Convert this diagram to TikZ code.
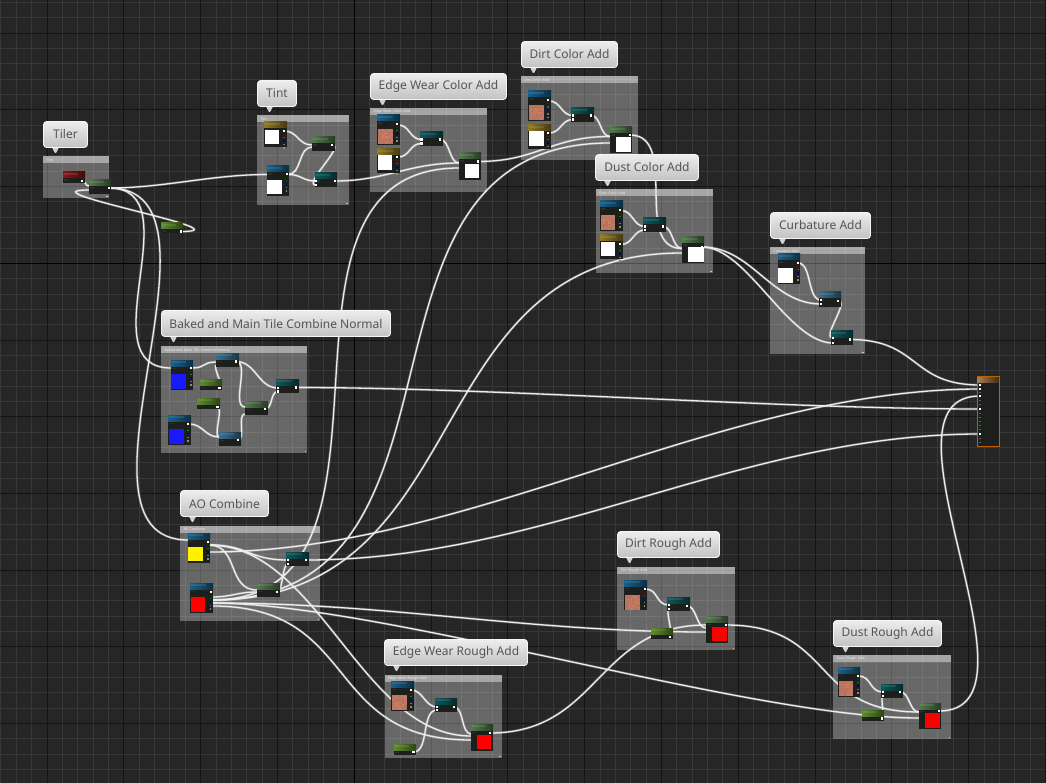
\documentclass[tikz,border=0pt]{standalone}
\usepackage{fontspec}
\setmainfont{Noto Sans}
\pgfdeclarelayer{backdrop}
\pgfdeclarelayer{wirelayer}
\pgfsetlayers{backdrop,wirelayer,main}
\definecolor{canvas}{HTML}{262626}
\definecolor{finegrid}{HTML}{383838}
\definecolor{majorgrid}{HTML}{141414}
\definecolor{nodebody}{HTML}{1D1F1D}
\definecolor{hblue}{HTML}{1A6E9E}
\definecolor{hbluegray}{HTML}{3F7FA6}
\definecolor{hteal}{HTML}{0E6468}
\definecolor{hgreen}{HTML}{5F8A58}
\definecolor{hlime}{HTML}{6AA030}
\definecolor{hyellow}{HTML}{A58A28}
\definecolor{hred}{HTML}{A01818}
\definecolor{salmon}{HTML}{CB7F66}
\definecolor{bubbletext}{HTML}{555555}
\tikzset{
  wire/.style={draw=white!93!black,line width=1.3pt,line cap=round,
    preaction={draw=white,draw opacity=.22,line width=2.6pt}},
  gbody/.style={fill=nodebody,inner sep=0pt,outer sep=0pt,anchor=north west},
  commentbox/.style={fill=white,fill opacity=.30,inner sep=0pt,outer sep=0pt,anchor=north west},
  commentband/.style={fill=white,fill opacity=.42,text opacity=.8,text=white,inner sep=0pt,outer sep=0pt,
    anchor=north west,font=\fontsize{3.6}{4}\selectfont,align=left},
  bubble/.style={draw=white!96!black,line width=.9pt,rounded corners=3.2pt,top color=white!93!black,bottom color=white!76!black,
    inner sep=0pt,outer sep=0pt,anchor=north west,text=bubbletext,font=\fontsize{12}{14}\selectfont},
}
% comment frame with its title band
\newcommand\commentframe[6]{%
  \begin{pgfonlayer}{backdrop}
    \node[commentbox,minimum width={(#4-#2)*1pt},minimum height={(#5-#3)*1pt}] (#1) at (#2,#3) {};
    \node[commentband,minimum width={(#4-#2)*1pt},minimum height=7.4pt,text width={(#4-#2-3)*1pt}] (#1title) at (#2,#3) {\hspace{2pt}#6};
    \fill[white,opacity=.6] ({#4-2.2},{#5-2.2}) rectangle ({#4-1},{#5-1});
  \end{pgfonlayer}}
% speech bubble above a comment frame
\newcommand\talk[6]{%
  \fill[white!82!black] ({#2+8},{#5-1}) -- ({#2+16},{#5-1}) -- ({#2+12.6},{#5+5.5}) -- ({#2+11.4},{#5+5.5}) -- cycle;
  \node[bubble,minimum width={(#4-#2)*1pt},minimum height={(#5-#3)*1pt}] (#1) at (#2,#3) {#6};}
% expression node: name, x1, y1, x2, y2, header colour
\newcommand\gnode[6]{%
  \node[gbody,minimum width={(#4-#2)*1pt},minimum height={(#5-#3)*1pt}] (#1) at (#2,#3) {};
  \shade[left color=#6!88!black,right color=#6!42!black] (#2,#3) rectangle (#4,{#3+6});
  \fill[white,opacity=.10] ({#2+1},{#3+1.4}) rectangle ({#2+(#4-#2)*.7},{#3+3.4});
  \fill[white,opacity=.07] ({#2+1},{#3+7.5}) rectangle ({#2+4.5},{#3+9.2});}
\newcommand\swatch[5]{\fill[#5] (#1,#2) rectangle (#3,#4);}
% textured swatch
\newcommand\roughswatch[4]{%
  \fill[salmon] (#1,#2) rectangle (#3,#4);
  \foreach \u in {0,...,9}{\foreach \v in {0,...,9}{%
    \pgfmathsetmacro\shadeamt{int(88+rnd*12)}
    \fill[salmon!\shadeamt!black] ({#1+\u*1.47},{#2+\v*1.47}) rectangle ({#1+\u*1.47+1.47},{#2+\v*1.47+1.47});}}}
% column of output pins on a texture node
\newcommand\pincolumn[2]{%
  \fill[white] (#1,#2) rectangle ({#1+2},{#2+2});
  \fill[red!55!black] ({#1+.3},{#2+3.6}) rectangle ({#1+1.7},{#2+5});
  \fill[green!55!black] ({#1+.3},{#2+7}) rectangle ({#1+1.7},{#2+8.4});
  \fill[blue!55!black] ({#1+.3},{#2+10.4}) rectangle ({#1+1.7},{#2+11.8});
  \fill[white!45!black] ({#1+.3},{#2+13.8}) rectangle ({#1+1.7},{#2+15.2});
  \fill[white!55!black] ({#1+.3},{#2+17.2}) rectangle ({#1+1.7},{#2+18.6});}
% wire pin with and without a visible square
\newcommand\pin[3]{\coordinate (#1) at (#2,#3);\fill[white] ({#2-1.2},{#3-1.2}) rectangle ({#2+1.2},{#3+1.2});}
\newcommand\cpin[3]{\coordinate (#1) at (#2,#3);}
\newcommand\wire[3]{\draw[wire] (#1) .. controls +(#3,0) and +(-#3,0) .. (#2);}
\begin{document}
\begin{tikzpicture}[x=1pt,y=-1pt]
\pgfmathsetseed{7}
\useasboundingbox (0,0) rectangle (1046,783);
\clip (0,0) rectangle (1046,783);
\begin{pgfonlayer}{backdrop}
  \fill[canvas] (0,0) rectangle (1046,783);
  \foreach \i in {-4,...,70}{\draw[finegrid,line width=.9pt] ({47+\i*15.36},0) -- ({47+\i*15.36},783);}
  \foreach \j in {-18,...,34}{\draw[finegrid,line width=.9pt] (0,{263.3+\j*15.34}) -- (1046,{263.3+\j*15.34});}
  \foreach \i in {-1,...,13}{\draw[majorgrid,line width=1pt] ({47+\i*76.8},0) -- ({47+\i*76.8},783);}
  \foreach \j in {-4,...,7}{\draw[majorgrid,line width=1pt] (0,{263.3+\j*76.7}) -- (1046,{263.3+\j*76.7});}
  \draw[black,line width=1.2pt] (354.2,0) -- (354.2,783);
  \draw[black,line width=1.2pt] (0,263.3) -- (1046,263.3);
\end{pgfonlayer}

% comment frames
\commentframe{cTiler}{43}{156}{108.5}{198}{Tiler}
\commentframe{cTint}{257}{115}{348.5}{205}{Tint}
\commentframe{cEdgeC}{370}{108}{487}{192}{Edge Wear Color Add}
\commentframe{cDirtC}{521}{76}{638}{160}{Dirt Color Add}
\commentframe{cDustC}{595.5}{189}{712.5}{273}{Dust Color Add}
\commentframe{cCurb}{770}{247}{864.5}{354}{Curbature Add}
\commentframe{cBaked}{161}{346}{307}{453}{Baked and Main Tile Combine Normal}
\commentframe{cAO}{180}{525.5}{320}{621}{AO Combine}
\commentframe{cDirtR}{617}{566.5}{735}{650}{Dirt Rough Add}
\commentframe{cDustR}{833}{655}{951}{739}{Dust Rough Add}
\commentframe{cEdgeR}{384.5}{674.5}{501.5}{758}{Edge Wear Rough Add}

% speech bubbles
\talk{bTiler}{43.5}{121.5}{87.5}{147.5}{Tiler}
\talk{bTint}{257.5}{80.5}{296.5}{106.5}{Tint}
\talk{bEdgeC}{370.5}{73.5}{506.5}{99.5}{Edge Wear Color Add}
\talk{bDirtC}{521.5}{41.5}{617.5}{67.5}{Dirt Color Add}
\talk{bDustC}{595.5}{154.5}{698.5}{180.5}{Dust Color Add}
\talk{bCurb}{770.5}{212.5}{870.5}{238.5}{Curbature Add}
\talk{bBaked}{161.5}{310.5}{390.5}{336.5}{Baked and Main Tile Combine Normal}
\talk{bAO}{180.5}{490.5}{268.5}{516.5}{AO Combine}
\talk{bDirtR}{617.5}{531.5}{719.5}{557.5}{Dirt Rough Add}
\talk{bDustR}{833.5}{620.5}{941.5}{646.5}{Dust Rough Add}
\talk{bEdgeR}{384.5}{639.5}{527.5}{665.5}{Edge Wear Rough Add}

% Tiler
\gnode{tiParam}{63}{172}{85}{183}{hred}
\pin{tiParamO}{82}{181}
\gnode{tiMul}{89}{180}{111}{194}{hgreen}
\cpin{tiMulA}{89}{186}\cpin{tiMulB}{89}{190}\pin{tiMulO}{109}{188}
\gnode{tiScale}{161}{223}{183}{233.5}{hlime}
\pin{tiScaleO}{181}{231.5}

% Tint
\gnode{tnColor}{264}{122}{287}{147}{hyellow}
\swatch{265}{130}{279}{144}{white}\pincolumn{283}{130}
\cpin{tnColorO}{284}{131}
\gnode{tnLerp}{312}{137}{335}{151}{hgreen}
\cpin{tnLerpA}{312}{145}\cpin{tnLerpB}{312}{147}\pin{tnLerpO}{332}{145}
\gnode{tnTex}{267}{166}{289}{196}{hblue}
\swatch{267}{180}{282}{194}{white}\pincolumn{285.5}{173}
\cpin{tnTexI}{267}{174.5}\cpin{tnTexO}{288}{174.5}
\gnode{tnAdd}{315}{173}{337}{187}{hteal}
\pin{tnAddA}{316}{181}\pin{tnAddB}{316}{185}\pin{tnAddO}{335}{181}

% Edge wear colour
\gnode{ecTex}{377}{115}{400}{145}{hblue}
\roughswatch{378}{129}{392.7}{143.7}\pincolumn{396}{123}
\cpin{ecTexO}{398}{125}
\gnode{ecColor}{377}{149}{400}{173}{hyellow}
\swatch{378}{155.5}{392}{170}{white}\pincolumn{396}{156}
\cpin{ecColorO}{398}{157}
\gnode{ecAdd}{420}{132}{443}{146}{hteal}
\pin{ecAddA}{421.5}{139.5}\pin{ecAddB}{421.5}{143.5}\pin{ecAddO}{440}{139.5}
\gnode{ecMix}{459}{153}{481}{180}{hgreen}
\swatch{465}{164}{479}{178.5}{white}\pin{ecMixO}{478}{161.5}
\cpin{ecMixA}{459}{163}\cpin{ecMixB}{459}{168}

% Dirt colour
\gnode{dcTex}{528}{91}{551}{121}{hblue}
\roughswatch{529}{105}{543.7}{119.7}\pincolumn{547}{99.5}
\cpin{dcTexO}{549}{101}
\gnode{dcColor}{528}{125}{551}{149}{hyellow}
\swatch{529}{131.5}{543.5}{146}{white}\pincolumn{547}{132}
\cpin{dcColorO}{549}{133}
\gnode{dcAdd}{571}{108}{594}{122}{hteal}
\pin{dcAddA}{573}{115.5}\pin{dcAddB}{573}{119.5}\pin{dcAddO}{591}{115.5}
\gnode{dcMix}{610}{127}{632}{153}{hgreen}
\swatch{616}{137}{631}{152}{white}\pin{dcMixO}{630}{135}
\cpin{dcMixA}{610}{136.5}\cpin{dcMixB}{610}{143}

% Dust colour
\gnode{ucTex}{600}{201}{623}{231}{hblue}
\roughswatch{600.5}{215}{615.2}{229.7}\pincolumn{619}{209}
\cpin{ucTexO}{621}{210.5}
\gnode{ucColor}{600}{235}{623}{259}{hyellow}
\swatch{600.5}{242}{615}{256.5}{white}\pincolumn{619}{243}
\cpin{ucColorO}{621}{244.5}
\gnode{ucAdd}{643}{218}{666}{232}{hteal}
\pin{ucAddA}{645}{226.5}\pin{ucAddB}{645}{230}\pin{ucAddO}{663}{226.5}
\gnode{ucMix}{682}{237}{704}{263}{hgreen}
\swatch{688}{247}{703.5}{262}{white}\pin{ucMixO}{702}{247}
\cpin{ucMixA}{682}{248.5}\cpin{ucMixB}{682}{253}

% Curvature
\gnode{cuTex}{778}{254}{800}{284}{hblue}
\swatch{778}{268}{793}{283}{white}\pincolumn{797}{262}
\cpin{cuTexO}{798}{263}
\gnode{cuAdd}{819}{292}{841}{307}{hbluegray}
\pin{cuAddA}{821}{300}\pin{cuAddB}{821}{304}\pin{cuAddO}{838}{301}
\gnode{cuMix}{831}{331}{853}{345}{hteal}
\pin{cuMixA}{833}{338}\pin{cuMixB}{833}{343}\pin{cuMixO}{850}{339.5}

% Baked normal
\gnode{baTexA}{171}{360}{193}{390}{hblue}
\swatch{171}{374}{186}{388.5}{blue!90!white}\pincolumn{190}{367}
\cpin{baTexAI}{171}{368}\cpin{baTexAO}{192}{368}
\gnode{baMulA}{216}{353}{239}{367}{hbluegray}
\cpin{baMulAA}{216}{362}\cpin{baMulAB}{217}{365}\pin{baMulAO}{236}{361.5}
\gnode{baConstA}{200}{379}{222}{390}{hlime}
\pin{baConstAO}{219.5}{388}
\gnode{baConstB}{197}{398}{220}{409}{hlime}
\pin{baConstBO}{217.5}{407}
\gnode{baTexB}{168}{415}{191}{445}{hblue}
\swatch{169}{429}{183.5}{444}{blue!90!white}\pincolumn{187}{423}
\cpin{baTexBO}{189}{424}
\gnode{baMulB}{219}{432}{241}{446}{hbluegray}
\cpin{baMulBA}{219}{437}\cpin{baMulBB}{219}{441}\pin{baMulBO}{238}{440}
\gnode{baBlend}{245}{401}{268}{415}{hgreen}
\cpin{baBlendA}{245}{407}\cpin{baBlendB}{245}{414}\pin{baBlendO}{265}{409}
\gnode{baOut}{276}{379}{299}{393}{hteal}
\pin{baOutA}{278}{388}\pin{baOutB}{278}{391.5}\pin{baOutO}{296}{387.5}

% AO combine
\gnode{aoTexA}{188}{533}{210}{563}{hblue}
\swatch{188}{547}{203}{561}{yellow}\pincolumn{207}{541}
\cpin{aoTexAI}{188}{540}\cpin{aoTexAG}{209}{545}\cpin{aoTexAB}{209}{552}
\gnode{aoTexB}{190}{583}{213}{613}{hblue}
\swatch{191}{597}{205}{612}{red}\pincolumn{209.5}{591}
\cpin{aoTexBR}{212}{597}\cpin{aoTexBG}{212}{600}\cpin{aoTexBH}{212}{603}\cpin{aoTexBK}{212}{606}
\gnode{aoTeal}{286}{552}{309}{566}{hteal}
\pin{aoTealA}{288}{560}\pin{aoTealB}{288}{564}\pin{aoTealO}{306}{560}
\gnode{aoMul}{257}{583}{280}{597}{hgreen}
\cpin{aoMulA}{257}{590}\cpin{aoMulB}{257}{592}\pin{aoMulO}{277}{592}

% Edge wear rough
\gnode{erTex}{391}{681}{414}{711}{hblue}
\roughswatch{392}{695}{406.7}{709.7}\pincolumn{410}{689}
\cpin{erTexO}{411}{690}
\gnode{erAdd}{435}{698}{457}{712}{hteal}
\pin{erAddA}{437}{707}\pin{erAddB}{437}{710}\pin{erAddO}{454}{707}
\gnode{erConst}{394}{744}{416}{755}{hlime}
\pin{erConstO}{413.5}{752}
\gnode{erMix}{471}{724}{493}{751}{hgreen}
\swatch{477}{735}{491}{749}{red}\pin{erMixO}{490}{733}
\cpin{erMixA}{471}{734}\cpin{erMixC}{471}{736}\cpin{erMixB}{471}{740}

% Dirt rough
\gnode{drTex}{624}{580}{647}{610}{hblue}
\roughswatch{625}{595}{639.7}{609.7}\pincolumn{643.5}{588}
\cpin{drTexO}{645}{589}
\gnode{drAdd}{667}{597}{690}{611}{hteal}
\pin{drAddA}{669}{605}\pin{drAddB}{669}{609}\pin{drAddO}{687}{606}
\gnode{drConst}{651}{628}{673}{639}{hlime}
\pin{drConstO}{670}{637}
\gnode{drMix}{706}{616}{728}{643}{hgreen}
\swatch{712}{627}{727}{641}{red}\pin{drMixO}{726}{625}
\cpin{drMixA}{706}{625}\cpin{drMixC}{706}{628}\cpin{drMixB}{706}{632}

% Dust rough
\gnode{urTex}{838}{667}{860}{697}{hblue}
\roughswatch{838.5}{681}{853.2}{695.7}\pincolumn{857}{675}
\cpin{urTexO}{858}{676}
\gnode{urAdd}{881}{684}{903}{698}{hteal}
\pin{urAddA}{883}{692}\pin{urAddB}{883}{696}\pin{urAddO}{900}{692}
\gnode{urConst}{862}{710}{884}{721}{hlime}
\pin{urConstO}{882}{718.5}
\gnode{urMix}{919}{703}{941}{729}{hgreen}
\swatch{925}{713}{940}{728}{red}\pin{urMixO}{939}{711}
\cpin{urMixA}{919}{712}\cpin{urMixB}{919}{718}

% material output
\node[gbody,draw=orange!75!black,line width=1pt,minimum width=22pt,minimum height=70pt] (matOut) at (977,376.5) {};
\shade[left color=brown!60!gray,right color=brown!35!black] (977.5,377) rectangle (998.5,382);
\pin{matBase}{980}{385}\pin{matMetal}{980}{389}\pin{matRough}{980}{396}\pin{matNormal}{980}{409}\pin{matAO}{980}{434}
\foreach \yy in {392,400,404,413,417,421,425,429,438,442}{\fill[white,opacity=.3] (979.4,\yy) rectangle (980.8,{\yy+1});}

\begin{pgfonlayer}{wirelayer}
  % Tiler
  \wire{tiParamO}{tiMulA}{4}
  \wire{tiScaleO}{tiMulB}{70}
  \wire{tiMulO}{tnTexI}{55}
  \wire{tiMulO}{baTexAI}{85}
  \wire{tiMulO}{aoTexAI}{135}
  % Tint
  \wire{tnColorO}{tnLerpA}{14}
  \wire{tnTexO}{tnLerpB}{14}
  \wire{tnTexO}{tnAddA}{14}
  \wire{tnLerpO}{tnAddB}{14}
  \wire{tnAddO}{ecMixA}{50}
  % Edge wear colour
  \wire{ecTexO}{ecAddA}{12}
  \wire{ecColorO}{ecAddB}{12}
  \wire{ecAddO}{ecMixA}{10}
  \wire{ecMixO}{dcMixA}{60}
  % Dirt colour
  \wire{dcTexO}{dcAddA}{12}
  \wire{dcColorO}{dcAddB}{12}
  \wire{dcAddO}{dcMixA}{10}
  \wire{dcMixO}{ucMixA}{50}
  % Dust colour
  \wire{ucTexO}{ucAddA}{12}
  \wire{ucColorO}{ucAddB}{12}
  \wire{ucAddO}{ucMixA}{10}
  % Curvature
  \wire{ucMixO}{cuAddB}{50}
  \wire{ucMixO}{cuMixB}{45}
  \wire{cuTexO}{cuAddA}{14}
  \wire{cuAddO}{cuMixA}{12}
  \wire{cuMixO}{matBase}{70}
  % Baked normal
  \wire{baTexAO}{baMulAA}{14}
  \wire{baConstAO}{baMulAB}{6}
  \wire{baTexBO}{baMulBA}{14}
  \wire{baConstBO}{baMulBA}{6}
  \wire{baMulAO}{baOutA}{20}
  \wire{baMulAO}{baBlendA}{14}
  \wire{baMulBO}{baBlendB}{8}
  \wire{baBlendO}{baOutB}{8}
  \wire{baOutO}{matNormal}{200}
  % AO combine
  \wire{aoTexAG}{aoMulA}{30}
  \wire{aoTexAG}{aoTealA}{40}
  \wire{aoTexAG}{erMixC}{110}
  \wire{aoTexAB}{matMetal}{260}
  \wire{aoTexBR}{aoMulB}{20}
  \wire{aoMulO}{aoTealB}{6}
  \wire{aoTealO}{matAO}{240}
  \wire{aoTexBG}{ecMixB}{220}
  \wire{aoTexBG}{dcMixB}{285}
  \wire{aoTexBG}{ucMixB}{270}
  \wire{aoTexBH}{drMixB}{180}
  \wire{aoTexBH}{urMixB}{170}
  \wire{aoTexBK}{erMixB}{150}
  % Edge wear rough
  \wire{erTexO}{erAddA}{12}
  \wire{erConstO}{erAddB}{16}
  \wire{erAddO}{erMixA}{10}
  \wire{erMixO}{drMixA}{110}
  % Dirt rough
  \wire{drTexO}{drAddA}{14}
  \wire{drConstO}{drAddB}{4}
  \wire{drAddO}{drMixC}{10}
  \wire{drMixO}{urMixA}{110}
  % Dust rough
  \wire{urTexO}{urAddA}{14}
  \wire{urConstO}{urAddB}{3}
  \wire{urAddO}{urMixA}{10}
  \wire{urMixO}{matRough}{115}
\end{pgfonlayer}
\end{tikzpicture}
\end{document}
